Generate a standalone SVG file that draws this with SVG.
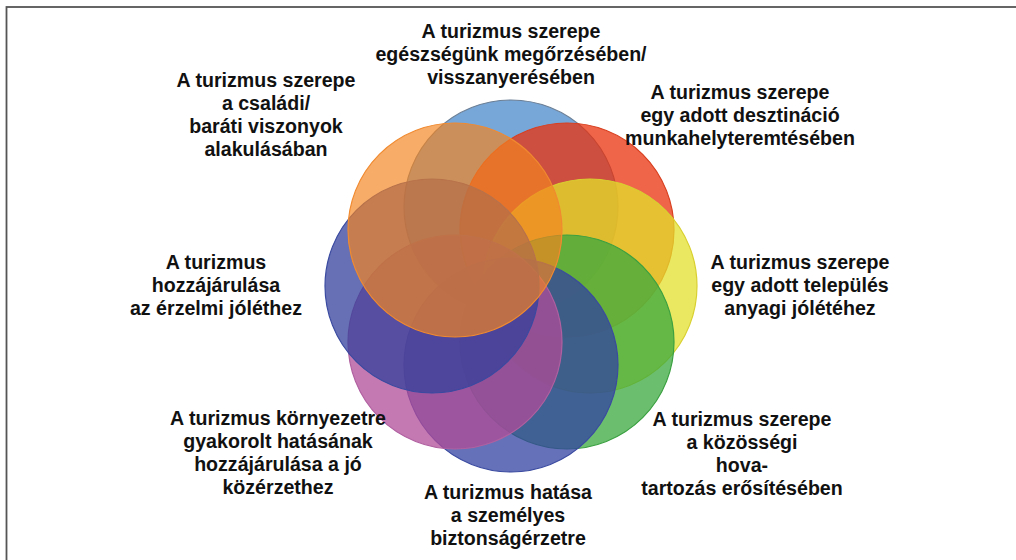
<svg xmlns="http://www.w3.org/2000/svg" width="1016" height="560" viewBox="0 0 1016 560">
<style>
.lbl{font-family:"Liberation Sans",Arial,sans-serif;font-weight:bold;font-size:19.6px;fill:#111;text-anchor:middle}
.c{stroke-width:1.2;fill-opacity:0.75}
</style>
<rect x="0" y="0" width="1016" height="560" fill="#fff"/>
<rect x="6.5" y="7" width="1030" height="580" fill="none" stroke="#555" stroke-width="1.8"/>
<g id="circles">
<g id="c-health"><circle class="c" cx="511" cy="207" r="107" fill="#4A88CB" stroke="#6b7f95"/></g>
<g id="c-jobs"><circle class="c" cx="567" cy="230" r="107" fill="#EA320E" stroke="#d84020"/></g>
<g id="c-material"><circle class="c" cx="590" cy="286" r="107" fill="#E3E02B" stroke="#d8d030"/></g>
<g id="c-community"><circle class="c" cx="567" cy="342" r="107" fill="#3AA83E" stroke="#3aa040"/></g>
<g id="c-security"><circle class="c" cx="511" cy="365" r="107" fill="#3242A0" stroke="#3a4aa0"/></g>
<g id="c-environment"><circle class="c" cx="455" cy="342" r="107" fill="#B04C98" stroke="#b060a0"/></g>
<g id="c-emotional"><circle class="c" cx="432" cy="286" r="107" fill="#34409B" stroke="#3a4aa0"/></g>
<g id="c-family"><circle class="c" cx="455" cy="230" r="107" fill="#F38420" stroke="#f08a30" style="fill-opacity:0.68"/></g>
</g>
<g id="labels">
<g id="t-health"><text class="lbl" x="511" y="38">A turizmus szerepe</text><text class="lbl" x="511" y="61">egészségünk megőrzésében/</text><text class="lbl" x="511" y="84">visszanyerésében</text></g>
<g id="t-family"><text class="lbl" x="266" y="87">A turizmus szerepe</text><text class="lbl" x="266" y="110">a családi/</text><text class="lbl" x="266" y="133">baráti viszonyok</text><text class="lbl" x="266" y="156">alakulásában</text></g>
<g id="t-jobs"><text class="lbl" x="740" y="99">A turizmus szerepe</text><text class="lbl" x="740" y="122">egy adott desztináció</text><text class="lbl" x="740" y="145">munkahelyteremtésében</text></g>
<g id="t-material"><text class="lbl" x="800" y="269">A turizmus szerepe</text><text class="lbl" x="800" y="292">egy adott település</text><text class="lbl" x="800" y="315">anyagi jólétéhez</text></g>
<g id="t-emotional"><text class="lbl" x="216" y="269">A turizmus</text><text class="lbl" x="216" y="292">hozzájárulása</text><text class="lbl" x="216" y="315">az érzelmi jóléthez</text></g>
<g id="t-environment"><text class="lbl" x="278" y="425">A turizmus környezetre</text><text class="lbl" x="278" y="448">gyakorolt hatásának</text><text class="lbl" x="278" y="471">hozzájárulása a jó</text><text class="lbl" x="278" y="494">közérzethez</text></g>
<g id="t-security"><text class="lbl" x="508" y="499">A turizmus hatása</text><text class="lbl" x="508" y="522">a személyes</text><text class="lbl" x="508" y="545">biztonságérzetre</text></g>
<g id="t-community"><text class="lbl" x="742" y="426">A turizmus szerepe</text><text class="lbl" x="742" y="449">a közösségi</text><text class="lbl" x="742" y="472">hova-</text><text class="lbl" x="742" y="495">tartozás erősítésében</text></g>
</g>
</svg>
